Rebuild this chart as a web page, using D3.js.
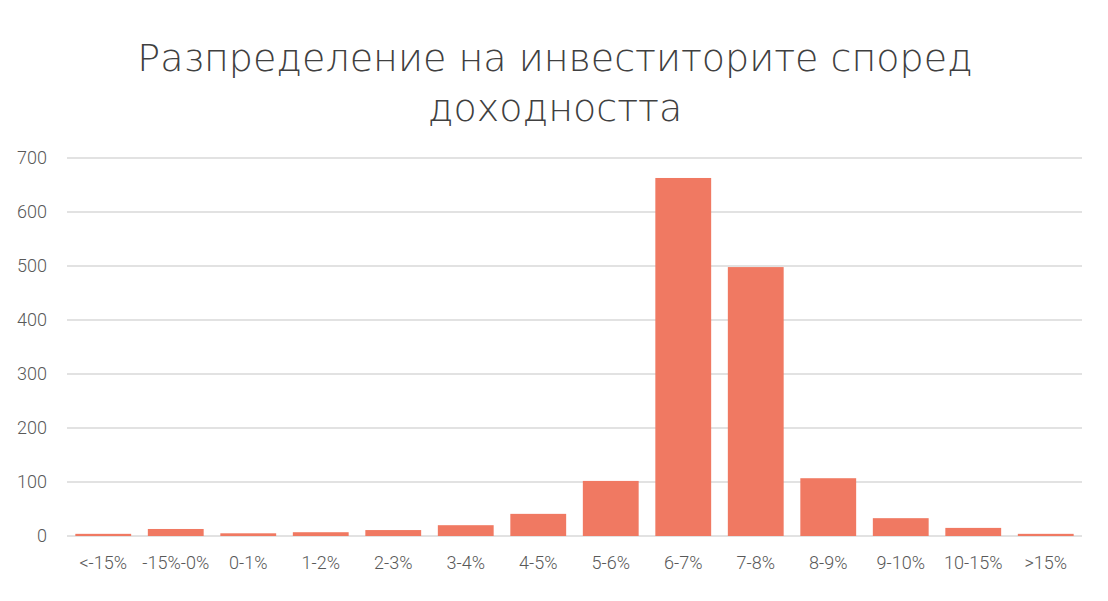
<!DOCTYPE html>
<html>
<head>
<meta charset="utf-8">
<script src="https://cdn.jsdelivr.net/npm/d3@7"></script>
<style>
  body { margin: 0; background: #fff; }
  text { font-family: Roboto, "Noto Sans", sans-serif; }
</style>
</head>
<body>
<script>
// categories and counts
const categories = ["<-15%", "-15%-0%", "0-1%", "1-2%", "2-3%", "3-4%", "4-5%",
                    "5-6%", "6-7%", "7-8%", "8-9%", "9-10%", "10-15%", ">15%"];
const investors = [4, 13, 5, 7, 11, 20, 41, 102, 663, 498, 107, 33, 15, 4];
const yTicks = [0, 100, 200, 300, 400, 500, 600, 700];
const titleLines = ["Разпределение на инвеститорите според", "доходността"];

const W = 1108, H = 601;
const margin = { left: 67, right: 26, top: 158, bottom: 65 };
const width = W - margin.left - margin.right;
const height = H - margin.top - margin.bottom;

const svg = d3.select("body").append("svg")
  .attr("width", W)
  .attr("height", H);

svg.append("g")
  .selectAll("text")
  .data(titleLines)
  .join("text")
  .attr("x", W / 2 + 1)
  .attr("y", (d, i) => 71 + i * 50)
  .attr("text-anchor", "middle")
  .style("font-family", "'DejaVu Sans', sans-serif")
  .style("font-weight", 200)
  .style("font-size", "38px")
  .attr("fill", "#404040")
  .text(d => d);

const g = svg.append("g")
  .attr("transform", "translate(" + margin.left + "," + margin.top + ")");

const x = d3.scaleBand()
  .domain(categories)
  .range([0, width])
  .paddingInner(0.23)
  .paddingOuter(0.115);

const y = d3.scaleLinear()
  .domain([0, 700])
  .range([height, 0]);

// gridlines
g.append("g")
  .selectAll("line")
  .data(yTicks)
  .join("line")
  .attr("x1", 0)
  .attr("x2", width)
  .attr("y1", d => y(d))
  .attr("y2", d => y(d))
  .attr("stroke", "#d9d9d9")
  .attr("stroke-width", 1.3);

// y labels
g.append("g")
  .selectAll("text")
  .data(yTicks)
  .join("text")
  .attr("x", -20)
  .attr("y", d => y(d))
  .attr("dy", "0.35em")
  .attr("text-anchor", "end")
  .style("font-size", "18px")
  .style("font-weight", 300)
  .attr("fill", "#595959")
  .text(d => d);

// bars
g.append("g")
  .selectAll("rect")
  .data(categories)
  .join("rect")
  .attr("x", d => x(d))
  .attr("y", (d, i) => y(investors[i]))
  .attr("width", x.bandwidth())
  .attr("height", (d, i) => height - y(investors[i]))
  .attr("fill", "#f07962");

// x labels
g.append("g")
  .selectAll("text")
  .data(categories)
  .join("text")
  .attr("x", d => x(d) + x.bandwidth() / 2)
  .attr("y", height + 33)
  .attr("text-anchor", "middle")
  .style("font-size", "18px")
  .style("font-weight", 300)
  .attr("fill", "#595959")
  .text(d => d);
</script>
</body>
</html>
